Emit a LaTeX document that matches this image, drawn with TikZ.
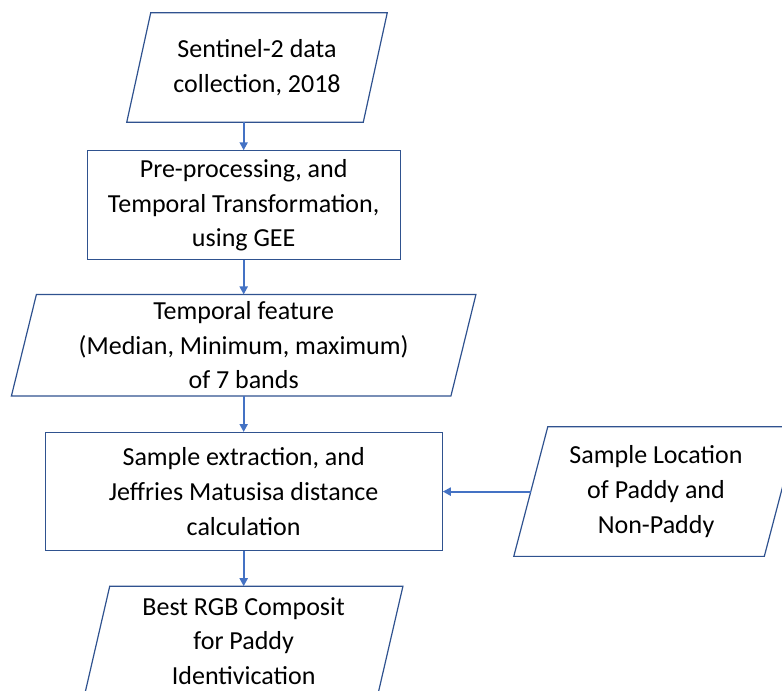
\documentclass[tikz,border=0pt]{standalone}
\usepackage{fontspec}
\setmainfont{Carlito}
\usetikzlibrary{arrows.meta, positioning}

\definecolor{edgeblue}{HTML}{2F528F}
\definecolor{arrowblue}{HTML}{4472C4}

\begin{document}
\begin{tikzpicture}[
    x=0.75pt, y=-0.75pt,
    font=\fontsize{19.5pt}{26pt}\selectfont,
    outline/.style={draw=edgeblue, line width=0.9pt},
    proc/.style={rectangle, outline, align=center, inner sep=2pt},
    io/.style={rectangle, align=center, inner sep=2pt,
               append after command={\pgfextra{\draw[outline]
                 ([xshift=#1]\tikzlastnode.north west) -- (\tikzlastnode.north east)
                 -- ([xshift=-#1]\tikzlastnode.south east) -- (\tikzlastnode.south west) -- cycle;}}},
    arr/.style={-{Triangle[length=6pt, width=6pt]}, line width=1.5pt, arrowblue},
]
\useasboundingbox (0,0) rectangle (782,690);

% -- main column --
\node[io=18pt, minimum width=195pt, minimum height=81.75pt] (sentinel) at (257,67.5)
    {Sentinel-2 data\\collection, 2018};
\node[proc, minimum width=234.75pt, minimum height=81.75pt, below=21pt of sentinel, xshift=-10pt] (prep)
    {Pre-processing, and\\Temporal Transformation,\\using GEE};
\node[io=18.75pt, minimum width=348pt, minimum height=75.75pt, below=25.5pt of prep] (feat)
    {Temporal feature\\(Median, Minimum, maximum)\\of 7 bands};
\node[proc, minimum width=297.75pt, minimum height=88.5pt, below=27pt of feat] (jm)
    {Sample extraction, and\\Jeffries Matusisa distance\\calculation};
\node[io=19pt, minimum width=238.5pt, minimum height=81.75pt, below=26.25pt of jm] (best)
    {Best RGB Composit\\for Paddy\\Identivication};

% -- side input --
\node[io=25.5pt, minimum width=213pt, minimum height=96.75pt, right=53.25pt of jm] (loc)
    {Sample Location\\of Paddy and\\Non-Paddy};

\draw[arr] (sentinel.south -| prep.north) -- (prep.north);
\draw[arr] (prep.south) -- (feat.north);
\draw[arr] (feat.south) -- (jm.north);
\draw[arr] (jm.south) -- (best.north);
\draw[arr] ([xshift=12.75pt]loc.west) -- (jm.east);

\end{tikzpicture}
\end{document}
